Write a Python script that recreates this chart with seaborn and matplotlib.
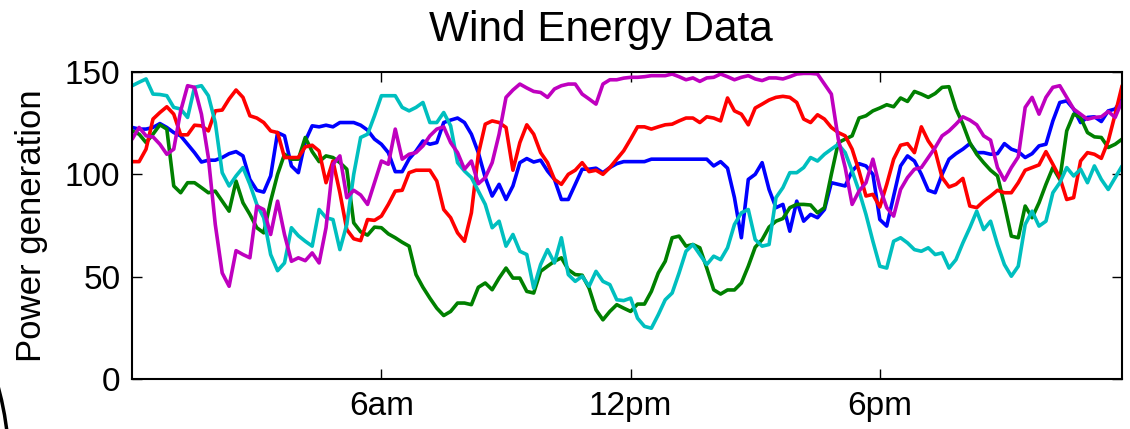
import numpy as np
import pandas as pd
import matplotlib
matplotlib.use("Agg")
import matplotlib.pyplot as plt
from matplotlib.patches import Ellipse
import seaborn as sns

# %% data: one reading every 10 minutes, 144 per series
blue = [122.9, 122.1, 122.1, 122.9, 124.8, 122.9, 120.4, 118.8, 114.7, 110.6, 106, 106.9, 106.9, 108.2, 110.1, 111.1, 109, 97.5, 92.2, 91.3, 99.2, 120.4, 118.8, 104.1,
        100.8, 116.3, 123.7, 123.2, 124, 123.2, 125.3, 125.3, 125.3, 124, 121.6, 117.2, 114.7, 110.6, 101.3, 101.3, 107.5, 111.4, 116.3, 114.7, 115.5, 125.3, 126.5, 127.5,
        125.3, 119.6, 110.6, 98.4, 89.4, 95.1, 87.7, 94.3, 105.7, 107.7, 106, 106.9, 101.6, 97.5, 87.7, 87.7, 95.1, 102.5, 102.5, 103, 100.8, 103.3, 105.2,
        106.2, 106.2, 106.2, 106.2, 107.4, 107.4, 107.4, 107.4, 107.4, 107.4, 107.4, 107.4, 107.4, 104.1, 106.2, 103, 88.6, 69, 97.5, 100, 105.7, 92.6, 83.7, 85.3,
        72.2, 86.9, 77.1, 80.4, 78.8, 82.8, 95.9, 95.1, 94.3, 101.6, 105.2, 104.1, 100, 77.9, 74.7, 89.4, 104.1, 109, 106.5, 100, 92.2, 91, 100, 107.4,
        110.1, 112.3, 115, 110.6, 110.6, 109.8, 110.1, 115, 112.3, 111.1, 108.2, 110.1, 113.9, 114.7, 126.1, 135.1, 135.9, 131.9, 125.3, 127.8, 128.1, 125.8, 131, 131.9, 136.8]

green = [121.2, 119.6, 115.5, 119.6, 124.2, 122.1, 94.3, 91, 95.9, 95.9, 93.5, 91, 91.8, 86.9, 82, 96.7, 86.1, 80.4, 73.9, 71.4, 86.9, 100, 109.8, 107.4,
         107.4, 118, 111.1, 106.2, 109, 108.2, 105.7, 102.5, 76.3, 71.9, 70.3, 74.2, 73.9, 70.9, 69, 66.8, 64.9, 51, 44.8, 39.5, 34.6, 31, 33, 37.1,
         37.1, 36.3, 44.8, 46.9, 43.6, 49.3, 54.2, 49.3, 49.3, 42.8, 42, 52.6, 55.1, 57.5, 59.2, 53.4, 51, 50.7, 44.4, 33.8, 28.9, 33, 36.3,
         34.6, 33, 36.6, 36.6, 42.8, 51.8, 57.5, 69, 69.8, 64.9, 65.7, 64.1, 54.2, 43.6, 41.5, 43.5, 43.5, 46.9, 55.1, 64.4, 68.1, 74.2, 77.1, 78.4,
         83.7, 85.3, 85.3, 85, 81.2, 83.7, 100, 115.5, 117.2, 118.8, 127.5, 128.6, 131, 132.4, 134, 133, 137.3, 135.6, 140.5, 139.2, 137.6, 139.5, 142.5, 142.8,
         132, 124.5, 115.5, 109.8, 105.7, 102, 99.2, 85.3, 69.8, 69, 84.5, 78.8, 86.1, 95.1, 103.3, 97.5, 121.2, 129.4, 127.8, 120.4, 118.3, 118, 113.1, 114.7, 117.2]

red = [106.2, 106.2, 112.3, 127, 130.2, 133, 129.4, 119.3, 119.3, 124, 123.7, 121.2, 131, 131.4, 136.8, 141.2, 137.6, 128.6, 127.5, 125.3, 121.2, 120.4, 108.2, 108.2,
       108.2, 113.4, 114.2, 111.4, 95.9, 106.5, 91, 73, 68.5, 67.6, 77.9, 77.5, 79.6, 85.3, 91.8, 92.2, 100.8, 102, 102, 102, 96.7, 82.8, 78.8, 71.4,
       67.3, 81.2, 109.8, 124.5, 126.1, 125.3, 122.9, 102, 115.5, 124.2, 119.6, 110.6, 105.7, 97.5, 95.1, 100, 102, 105.7, 101.3, 102, 100, 103.3, 107.4,
       111.5, 117.2, 123.2, 123.2, 122.1, 123.2, 124.2, 124.5, 126.1, 127.5, 127.5, 125.3, 128.1, 127.5, 126.1, 137.3, 131, 129.4, 124.2, 132.4, 134.3, 136.3, 137.6, 138.1,
       137.6, 135.1, 127, 125.3, 129.1, 127, 122.9, 120.4, 118.8, 112.3, 101.6, 89.4, 90.2, 84, 95.1, 107.4, 114.2, 115, 110.6, 123.2, 116.3, 111.4, 98.4, 93.8,
       95.1, 98, 84.5, 83.7, 86.9, 89.4, 92.2, 91, 91, 95.9, 102, 103.3, 104.6, 111.1, 104.9, 98.4, 87.7, 88.6, 106.5, 110.6, 109.8, 107.8, 116.3, 129.4, 143.3]

cyan = [143.3, 145, 146.6, 139.2, 139, 138.4, 132.7, 131.9, 127.8, 142.5, 143.3, 138.4, 125.3, 100.8, 94.3, 99.2, 103.3, 95.1, 85.3, 78.8, 60.8, 52.9, 56.7, 73.9,
        70, 67.3, 64.9, 82.8, 78.8, 77.9, 63.2, 75.5, 100, 118, 119.6, 128.6, 138.4, 138.4, 138.4, 132.7, 131, 132.7, 135.1, 125.3, 125.3, 130.2, 123.7, 105.7,
        101.6, 98.4, 91.8, 85.3, 73.9, 77.1, 64.9, 70.6, 62.4, 60.8, 44.4, 55.9, 63.2, 56.7, 69, 51, 47.7, 50.2, 45.3, 52.6, 47.7, 46.1, 38.7,
        38.3, 39.5, 29.7, 25.7, 24.8, 31.4, 38.7, 42, 51.8, 62.4, 65.7, 60.8, 55.9, 60, 58.3, 64.1, 75.5, 81.2, 82.8, 68.1, 64.9, 65.7, 88.6, 93.5,
        100.8, 100.8, 103.3, 108.2, 106.5, 109.8, 112.3, 114.7, 110.6, 101.6, 91.8, 80.4, 67.3, 55.1, 54.2, 67.3, 69, 66.5, 63.2, 62.4, 64.1, 60.8, 61.6, 54.2,
        58.3, 66.5, 73.9, 82, 73, 77.1, 65.7, 55.9, 50.2, 55.1, 75.5, 82, 74.7, 77.1, 91, 95.9, 103.3, 99.2, 102.5, 95.9, 104.1, 97.5, 92.6, 98.4, 104.1]

magenta = [117.2, 122.9, 118.8, 118.3, 114.7, 109.8, 112.3, 131, 143.3, 142.5, 129.4, 108.2, 75.5, 51.8, 45.3, 62.7, 60.8, 59.2, 84.5, 82.8, 70.6, 86.9, 70.6, 57.5,
           59.2, 57.8, 61.6, 56.7, 73.9, 104.9, 109, 88.6, 92.2, 89.9, 85.3, 95.9, 106.5, 104.9, 122.1, 107.4, 109.8, 110.6, 113.9, 118.8, 122.1, 123.2, 115.5, 110.6,
           102.5, 106.5, 95.4, 98.4, 105.7, 119.6, 137.6, 141.2, 144.1, 142.2, 140.5, 140, 137.6, 141.7, 143.3, 144.1, 144.1, 139.2, 136.8, 134.3, 144.1, 146.2, 146.2,
           147, 147.4, 147.4, 147.7, 148.2, 148.2, 148.2, 149, 147.7, 146.2, 147.1, 145.4, 147.1, 147.4, 149, 147.7, 146.2, 147.4, 148.2, 146.6, 145.8, 147.1, 147.1, 146.6,
           147.7, 149, 149.3, 149.3, 149, 144.1, 139.2, 117.2, 103.3, 85.3, 91.8, 95.9, 107.4, 93.5, 83.7, 79.6, 92.6, 98.4, 102.5, 103.3, 108.2, 113.1, 118.8, 121.2,
           124.5, 128.1, 126.5, 124.2, 118.8, 116.7, 103.3, 97.1, 103.3, 108.5, 132.7, 137.6, 129.4, 137.6, 142.5, 143.3, 137.6, 131.9, 129.4, 126.9, 127.8, 128.1, 130.7, 127.8, 135.9]

tick_pos = [36, 72, 108]
tick_labels = ["6am", "12pm", "6pm"]

series = {"blue": blue, "green": green, "red": red, "cyan": cyan, "magenta": magenta}
colors = {"blue": (0, 0, 1), "green": (0, 0.5, 0), "red": (1, 0, 0),
          "cyan": (0, 0.75, 0.75), "magenta": (0.75, 0, 0.75)}

df = pd.concat(
    [pd.DataFrame({"t": np.arange(len(v)), "power": v, "turbine": k}) for k, v in series.items()],
    ignore_index=True,
)

# %% plot
sns.set_style("ticks")
plt.rcParams["font.family"] = ["Liberation Sans", "DejaVu Sans"]
plt.rcParams["text.color"] = "black"
plt.rcParams["axes.labelcolor"] = "black"
plt.rcParams["xtick.color"] = "black"
plt.rcParams["ytick.color"] = "black"

fig = plt.figure(figsize=(11.3, 4.29), dpi=100)
ax = fig.add_axes([0.117, 0.1166, 0.876, 0.7156])

sns.lineplot(data=df, x="t", y="power", hue="turbine", palette=colors,
             linewidth=2.6, legend=False, ax=ax)

ax.set_xlim(0, 143)
ax.set_ylim(0, 150)
ax.set_xticks(tick_pos)
ax.set_xticklabels(tick_labels)
ax.set_yticks([0, 50, 100, 150])
ax.tick_params(direction="in", length=7, width=1, labelsize=24, top=True, right=True, pad=8.5)
for s in ax.spines.values():
    s.set_linewidth(1.5)
    s.set_color("black")
    s.set_visible(True)

ax.set_xlabel("")
ax.set_ylabel("Power generation", fontsize=25, labelpad=12)
ax.set_title("Wind Energy Data", fontsize=30.5, pad=22, x=0.473)

# clipped arc visible in the lower left corner of the source image
fig.patches.append(Ellipse((-294 / 1130, 1 - 467 / 429), 2 * 303 / 1130, 2 * 303 / 429,
                           transform=fig.transFigure, fill=False, lw=2.5, ec="black"))

fig.savefig("out.png", dpi=100)
